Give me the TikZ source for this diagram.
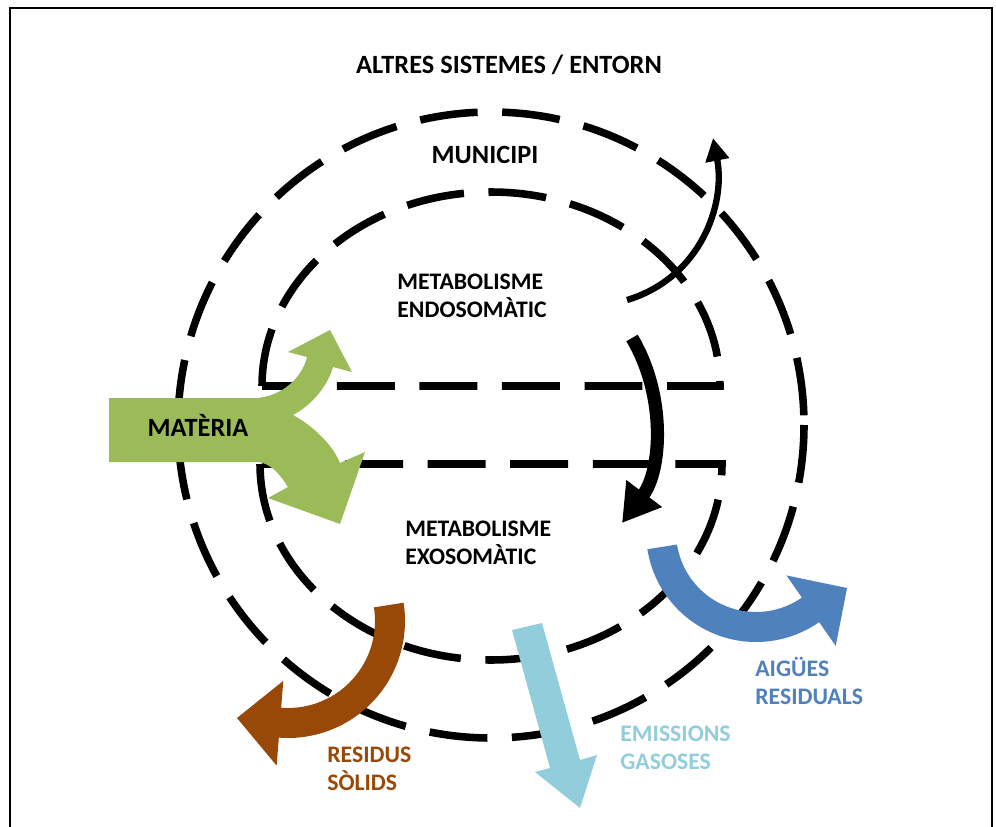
\documentclass[tikz,border=0pt]{standalone}
\usepackage{fontspec}
\setmainfont{Carlito}
\usepackage{tikz}
\usetikzlibrary{calc,arrows.meta}
\definecolor{verdmat}{HTML}{9BBB59}
\definecolor{marroresidu}{HTML}{984807}
\definecolor{blauaigua}{HTML}{4F81BD}
\definecolor{celestgas}{HTML}{92CDDC}
\tikzset{limit/.style={line width=4.3pt, dash pattern=on 33pt off 14pt},
         etiq/.style={font=\fontsize{13.5}{15.8}\selectfont\bfseries, align=left, inner sep=0pt, anchor=west},
         titol/.style={font=\fontsize{15}{18}\selectfont\bfseries, inner sep=0pt}}

\begin{document}
\begin{tikzpicture}[x=0.02cm, y=-0.02cm]
                      \useasboundingbox (0,0) rectangle (996,827);
                      \draw[line width=1.2pt] (10,827) -- (10,8) -- (992,8) -- (992,827);
                      \draw[limit] (491,425) circle [radius=313];
                      \draw[limit] (262,386) arc [start angle=180, end angle=360, x radius=229, y radius=194] -- cycle;
                      \draw[limit] (260,464) arc [start angle=180, end angle=0, x radius=231, y radius=196] -- cycle;
                      \fill[verdmat] (109,398) -- (257,398) .. controls (282,396) and (302,378) .. (307,357) -- (288,352) -- (330,330) -- (352,372) -- (333,367) .. controls (327,388) and (310,406) .. (293,415) .. controls (310,424) and (332,443) .. (340,463) -- (365,452) -- (340,524) -- (268,498) -- (288,487) .. controls (280,474) and (270,463) .. (258,462) -- (109,462) -- cycle;
                      \draw[line width=7.5pt, -{Triangle[length=21pt, width=24pt]}] (632,338) .. controls (666,395) and (662,470) .. (622,523);
                      \draw[line width=3.6pt, -{Triangle[length=13pt, width=13pt]}] (627,300) .. controls (700,278) and (726,205) .. (713,138);
                      \coordinate (cres) at (288,621);
                      \fill[marroresidu] ($(cres)+(-9:117)$) arc [start angle=-9, end angle=94.5, radius=117] -- ($(cres)+(94.5:145)$) -- (237,718) -- ($(cres)+(94.5:60)$) -- ($(cres)+(94.5:87)$) arc [start angle=94.5, end angle=-9, radius=87] -- cycle;
                      \fill[celestgas] (512,630) -- (542,623) -- (580,760) -- (597,755) -- (580,808) -- (535,772) -- (550,768) -- cycle;
                      \coordinate (caig) at (756,532);
                      \fill[blauaigua] ($(caig)+(171:110)$) arc [start angle=171, end angle=55, radius=110] -- ($(caig)+(55:139)$) -- (847,588) -- ($(caig)+(55:53)$) -- ($(caig)+(55:80)$) arc [start angle=55, end angle=171, radius=80] -- cycle;
                      \node[titol] (entorn) at (509,65) {ALTRES SISTEMES / ENTORN};
                      \node[titol] (municipi) at (485,155) {MUNICIPI};
                      \node[titol] (materia) at (198,425) {MATÈRIA};
                      \node[etiq] (endo) at (397,296) {METABOLISME\\ENDOSOMÀTIC};
                      \node[etiq] (exo) at (405,543) {METABOLISME\\EXOSOMÀTIC};
                      \node[etiq, text=marroresidu] (residus) at (327,769) {RESIDUS\\SÒLIDS};
                      \node[etiq, text=celestgas] (gasos) at (620,748) {EMISSIONS\\GASOSES};
                      \node[etiq, text=blauaigua] (aigues) at (755,681) {AIGÜES\\RESIDUALS};
                  \end{tikzpicture}
\end{document}
